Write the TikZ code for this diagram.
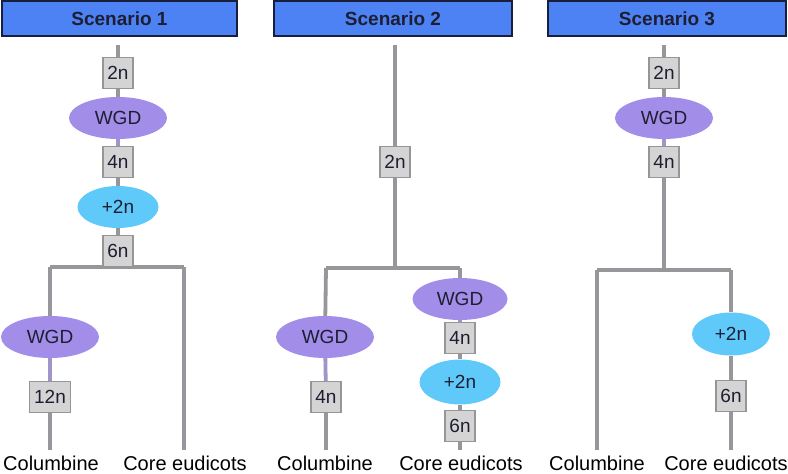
\documentclass[tikz,border=0pt]{standalone}
\usepackage{fontspec}
\setmainfont{Liberation Sans}
\usetikzlibrary{shapes.geometric,backgrounds}
\definecolor{hdrfill}{RGB}{77,130,245}
\definecolor{hdrdraw}{RGB}{25,30,60}
\definecolor{branch}{RGB}{150,150,155}
\definecolor{boxfill}{RGB}{212,212,212}
\definecolor{boxdraw}{RGB}{150,150,150}
\definecolor{wgdfill}{RGB}{162,142,232}
\definecolor{plusfill}{RGB}{95,202,250}
\definecolor{txt}{RGB}{30,30,50}
\definecolor{lavline}{RGB}{160,148,200}
\tikzset{
  hdr/.style={draw=hdrdraw, line width=1.2pt, fill=hdrfill, inner sep=0pt,
    font=\fontsize{19}{22}\selectfont\bfseries, text=txt},
  ploidy/.style={draw=boxdraw, line width=1.2pt, fill=boxfill, minimum width=30pt,
    minimum height=31pt, inner sep=1pt, font=\fontsize{19}{21}\selectfont, text=txt},
  wgd/.style={ellipse, fill=wgdfill, minimum width=98pt, minimum height=42pt,
    inner sep=0pt, font=\fontsize{19}{21}\selectfont, text=txt},
  plus/.style={ellipse, fill=plusfill, minimum width=81pt, minimum height=42pt,
    inner sep=0pt, font=\fontsize{19}{21}\selectfont, text=txt},
  taxon/.style={font=\fontsize{20}{23}\selectfont, text=black, inner sep=0pt, anchor=base},
  br/.style={draw=branch, line width=3.8pt},
  brl/.style={draw=lavline, line width=3.8pt}
}
\begin{document}
\begin{tikzpicture}[x=1pt,y=-1pt]
\useasboundingbox (0,0) rectangle (788,474);
% headers
\node[hdr, minimum width=235pt, minimum height=35pt] (h1) at (119.5,18.5) {Scenario 1};
\node[hdr, minimum width=238pt, minimum height=35pt] (h2) at (393,18.5) {Scenario 2};
\node[hdr, minimum width=238pt, minimum height=35pt] (h3) at (667,18.5) {Scenario 3};

% ---------- Scenario 1 ----------
\coordinate (t1) at (118,45);
\node[ploidy] (a1) at (118,73) {2n};
\node[wgd] (a2) at (118,118) {WGD};
\node[ploidy] (a3) at (118,162) {4n};
\node[plus] (a4) at (118,207) {+2n};
\node[ploidy] (a5) at (118,251) {6n};
\coordinate (j1) at (118,267);
\coordinate (l1) at (50,267);
\coordinate (r1) at (184,267);
\node[wgd] (a6) at (50,337) {WGD};
\node[ploidy, minimum width=41pt] (a7) at (50,397) {12n};
\coordinate (le1) at (50,450);
\coordinate (re1) at (184,450);
\node[taxon] (c1) at (51,470) {Columbine};
\node[taxon] (e1) at (185,470) {Core eudicots};

% ---------- Scenario 2 ----------
\coordinate (t2) at (395,45);
\node[ploidy] (b1) at (395,162) {2n};
\coordinate (j2) at (395,268);
\coordinate (l2) at (326,268);
\coordinate (r2) at (460,268);
\node[wgd] (b2) at (325,337) {WGD};
\node[ploidy] (b3) at (326,397) {4n};
\node[wgd, minimum width=95pt] (b4) at (460,299) {WGD};
\node[ploidy] (b5) at (460,338) {4n};
\node[plus, minimum height=45pt] (b6) at (460,382) {+2n};
\node[ploidy] (b7) at (460,426) {6n};
\coordinate (le2) at (326,450);
\coordinate (re2) at (460,450);
\node[taxon] (c2) at (325,470) {Columbine};
\node[taxon] (e2) at (461,470) {Core eudicots};

% ---------- Scenario 3 ----------
\coordinate (t3) at (664,45);
\node[ploidy] (d1) at (664,73) {2n};
\node[wgd] (d2) at (664,118) {WGD};
\node[ploidy] (d3) at (664,162) {4n};
\coordinate (j3) at (664,270);
\coordinate (l3) at (597,270);
\coordinate (r3) at (731,270);
\node[plus, minimum width=78pt, minimum height=43pt] (d4) at (731,334) {+2n};
\node[ploidy] (d5) at (731,396) {6n};
\coordinate (le3) at (597,450);
\coordinate (re3) at (731,450);
\node[taxon] (c3) at (597,470) {Columbine};
\node[taxon] (e3) at (726,470) {Core eudicots};

\begin{scope}[on background layer]
  % scenario 1
  \draw[br] (t1) -- (a1) -- (a2);
  \draw[brl] (a2) -- (a3);
  \draw[br] (a3) -- (a4) -- (a5) -- (j1);
  \draw[br] (l1) -- (r1);
  \draw[br] (l1) -- (a6);
  \draw[brl] (a6) -- (a7);
  \draw[br] (a7) -- (le1);
  \draw[br] (r1) -- (re1);
  % scenario 2
  \draw[br] (t2) -- (b1) -- (j2);
  \draw[br] (l2) -- (r2);
  \draw[br] (l2) -- (b2);
  \draw[brl] (b2) -- (b3);
  \draw[br] (b3) -- (le2);
  \draw[br] (r2) -- (b4);
  \draw[brl] (b4) -- (b5);
  \draw[br] (b5) -- (b6) -- (b7) -- (re2);
  % scenario 3
  \draw[br] (t3) -- (d1) -- (d2);
  \draw[brl] (d2) -- (d3);
  \draw[br] (d3) -- (j3);
  \draw[br] (l3) -- (r3);
  \draw[br] (l3) -- (le3);
  \draw[br] (r3) -- (d4) -- (d5) -- (re3);
\end{scope}
\end{tikzpicture}
\end{document}
